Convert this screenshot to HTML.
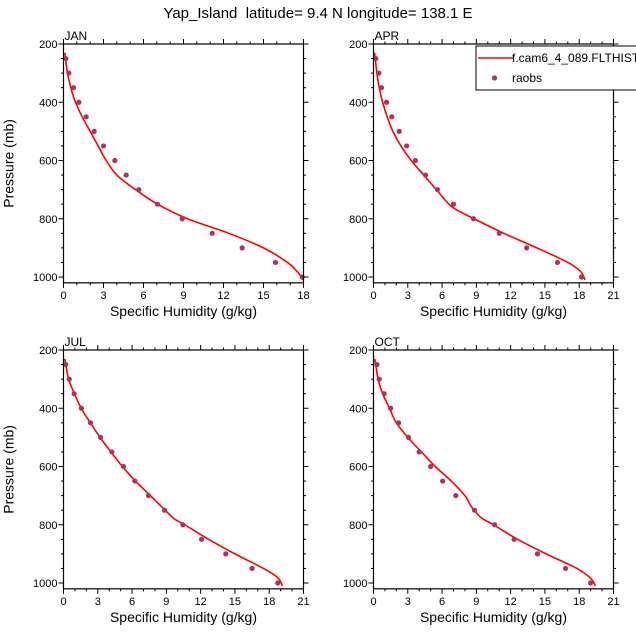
<!DOCTYPE html>
<html><head><meta charset="utf-8">
<style>
html,body{margin:0;padding:0;background:#fff;}
svg{display:block;font-family:"Liberation Sans",Arial,sans-serif;}
</style></head>
<body>
<svg id="chart" width="636" height="639" viewBox="0 0 636 639">
<text x="318" y="18" text-anchor="middle" font-size="15" style="white-space:pre">Yap_Island  latitude= 9.4 N longitude= 138.1 E</text>
</svg>
<script>
const pressures = [250,300,350,400,450,500,550,600,650,700,750,800,850,900,950,1000];
const yTicks = [200,400,600,800,1000];
const janObs = [0.18,0.4,0.75,1.15,1.7,2.3,3.0,3.85,4.7,5.65,7.05,8.9,11.15,13.4,15.9,17.9];
const aprObs = [0.2,0.47,0.7,1.14,1.6,2.25,2.9,3.67,4.55,5.6,7.0,8.75,11.0,13.4,16.1,18.2];
const julObs = [0.2,0.5,0.93,1.57,2.36,3.24,4.23,5.25,6.24,7.44,8.84,10.44,12.08,14.2,16.5,18.75];
const octObs = [0.3,0.5,0.93,1.5,2.2,3.06,4.0,5.0,6.05,7.2,8.84,10.6,12.3,14.35,16.8,19.0];
const janModelP = [230,250,300,350,400,450,500,550,600,650,700,750,800,850,900,950,980,1000,1010];
const janModelQ = [0.1,0.15,0.3,0.55,0.9,1.4,2.0,2.6,3.2,4.0,5.4,7.05,9.3,12.4,15.0,16.8,17.5,17.85,17.95];
const aprModelP = [230,250,300,350,400,450,500,550,600,650,700,750,770,800,850,900,950,980,1000,1010];
const aprModelQ = [0.1,0.15,0.3,0.5,0.8,1.2,1.7,2.4,3.3,4.4,5.5,6.6,7.3,8.8,11.4,14.3,17.0,18.1,18.4,18.5];
const julModelP = [230,250,300,350,400,450,500,550,600,650,700,750,780,800,850,900,950,980,1000,1010];
const julModelQ = [0.1,0.2,0.45,0.95,1.55,2.35,3.2,4.15,5.15,6.3,7.6,8.9,9.7,10.6,12.7,15.0,17.5,18.7,19.05,19.15];
const octModelP = [230,250,300,350,400,450,500,550,600,650,700,740,775,800,850,900,950,980,1000,1010];
const octModelQ = [0.1,0.2,0.4,0.8,1.4,2.0,3.0,4.2,5.4,6.8,8.0,8.6,9.4,10.5,12.6,15.1,17.8,18.9,19.3,19.4];

const NS="http://www.w3.org/2000/svg";
const svg=document.getElementById('chart');
function mk(tag,attrs,parent){const e=document.createElementNS(NS,tag);for(const k in attrs)e.setAttribute(k,attrs[k]);(parent||svg).appendChild(e);return e;}
function smoothPath(pts){
 let d='M'+pts[0][0].toFixed(2)+','+pts[0][1].toFixed(2);
 for(let i=0;i<pts.length-1;i++){
  const p0=pts[Math.max(0,i-1)],p1=pts[i],p2=pts[i+1],p3=pts[Math.min(pts.length-1,i+2)];
  const c1=[p1[0]+(p2[0]-p0[0])/6,p1[1]+(p2[1]-p0[1])/6];
  const c2=[p2[0]-(p3[0]-p1[0])/6,p2[1]-(p3[1]-p1[1])/6];
  d+='C'+c1[0].toFixed(2)+','+c1[1].toFixed(2)+' '+c2[0].toFixed(2)+','+c2[1].toFixed(2)+' '+p2[0].toFixed(2)+','+p2[1].toFixed(2);
 }
 return d;
}

const panels=[
 {name:'jan',label:'JAN',x0:63.5,top:44,xmax:18,xt:[0,3,6,9,12,15,18],obs:janObs,mp:janModelP,mq:janModelQ,ytitle:true},
 {name:'apr',label:'APR',x0:373.5,top:44,xmax:21,xt:[0,3,6,9,12,15,18,21],obs:aprObs,mp:aprModelP,mq:aprModelQ,ytitle:false},
 {name:'jul',label:'JUL',x0:63.5,top:350,xmax:21,xt:[0,3,6,9,12,15,18,21],obs:julObs,mp:julModelP,mq:julModelQ,ytitle:true},
 {name:'oct',label:'OCT',x0:373.5,top:350,xmax:21,xt:[0,3,6,9,12,15,18,21],obs:octObs,mp:octModelP,mq:octModelQ,ytitle:false}
];
const W=240, PXMB=233/800;
panels.forEach(p=>{
 const g=mk('g',{});
 
 
 const xs=v=>p.x0+v/p.xmax*W;
 const ys=v=>p.top+(v-200)*PXMB;
 const bottom=ys(1020);
 const pts=p.mp.map((pp,i)=>[xs(p.mq[i]),ys(pp)]);
 const ln=mk('path',{d:smoothPath(pts),fill:'none',stroke:'#ff0000','stroke-width':1.6,'stroke-linejoin':'round'},g);
 
 
 pressures.forEach((pp,i)=>{
  const c=mk('circle',{cx:xs(p.obs[i]),cy:ys(pp),r:2.6,fill:'#b03060'},g);
  
  
 });
 const box=mk('rect',{x:p.x0,y:p.top,width:W,height:bottom-p.top,fill:'none',stroke:'#000','stroke-width':1.2},g);
 
 
 for(let v=0;v<=p.xmax;v++){
  const major=v%3===0, L=major?5:2.5, x=xs(v);
  mk('line',{x1:x,x2:x,y1:bottom,y2:bottom+L,stroke:'#000','stroke-width':1},g);
  mk('line',{x1:x,x2:x,y1:p.top,y2:p.top-L,stroke:'#000','stroke-width':1},g);
 }
 p.xt.forEach(v=>{
  const t=mk('text',{x:xs(v),y:bottom+16,'text-anchor':'middle','font-size':11},g);
  t.textContent=v;
  
  
 });
 for(let v=200;v<=1000;v+=50){
  const major=v%200===0, L=major?5:2.5, y=ys(v);
  mk('line',{x1:p.x0,x2:p.x0-L,y1:y,y2:y,stroke:'#000','stroke-width':1},g);
  mk('line',{x1:p.x0+W,x2:p.x0+W+L,y1:y,y2:y,stroke:'#000','stroke-width':1},g);
 }
 yTicks.forEach(v=>{
  const t=mk('text',{x:p.x0-6,y:ys(v)+4,'text-anchor':'end','font-size':11},g);
  t.textContent=v;
  
  
 });
 const lab=mk('text',{x:p.x0+1,y:p.top-4,'font-size':12},g);
 lab.textContent=p.label;
 
 
 const xt=mk('text',{x:p.x0+W/2,y:bottom+33,'text-anchor':'middle','font-size':14},g);
 xt.textContent='Specific Humidity (g/kg)';
 
 
 if(p.ytitle){
  const cy=(p.top+bottom)/2;
  const yt=mk('text',{x:p.x0-50,y:cy,'text-anchor':'middle','font-size':14,transform:'rotate(-90 '+(p.x0-50)+' '+cy+')'},g);
  yt.textContent='Pressure (mb)';
  
  
 }
});
const lg=mk('g',{});


mk('rect',{x:476,y:46,width:170,height:44,fill:'#fff',stroke:'#000','stroke-width':1},lg);
const ll=mk('line',{x1:478,x2:513,y1:58,y2:58,stroke:'#ff0000','stroke-width':1.6},lg);


const lt=mk('text',{x:512,y:62,'font-size':12},lg);
lt.textContent='f.cam6_4_089.FLTHIST';


const lc=mk('circle',{cx:494.5,cy:78,r:2.6,fill:'#b03060'},lg);


const lt2=mk('text',{x:512,y:82,'font-size':12},lg);
lt2.textContent='raobs';


</script>
</body></html>
